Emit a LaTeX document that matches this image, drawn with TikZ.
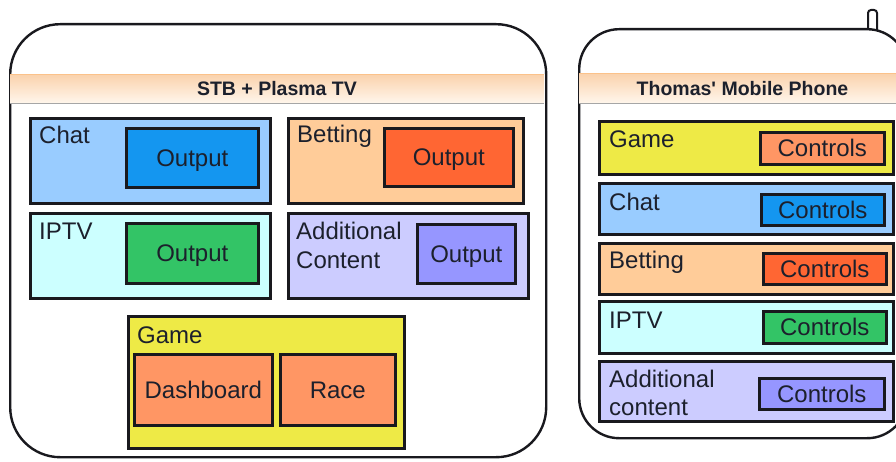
\documentclass[tikz,border=0pt]{standalone}
\usepackage{fontspec}
\setmainfont{Liberation Sans}
\newfontfamily\headfont{Liberation Sans}
\definecolor{txt}{RGB}{28,32,44}
\definecolor{cchat}{RGB}{153,204,255}
\definecolor{cchatout}{RGB}{20,150,240}
\definecolor{cbet}{RGB}{255,204,153}
\definecolor{cbetout}{RGB}{255,102,51}
\definecolor{ciptv}{RGB}{204,255,255}
\definecolor{ciptvout}{RGB}{51,196,102}
\definecolor{cadd}{RGB}{204,204,255}
\definecolor{caddout}{RGB}{150,150,255}
\definecolor{cgame}{RGB}{238,234,70}
\definecolor{cgameout}{RGB}{255,150,100}
\definecolor{bandtop}{RGB}{250,210,172}
\definecolor{bandbot}{RGB}{255,246,236}
\definecolor{edge}{RGB}{25,25,30}
\newcommand{\rbox}[7]{%
  \pgfmathsetmacro\bw{#4-#2}\pgfmathsetmacro\bh{#5-#3}%
  \node[#6, minimum width=\bw pt, minimum height=\bh pt, anchor=north west, inner sep=0pt] (#1) at (#2,#3) {#7};%
}
\begin{document}
\begin{tikzpicture}[x=1pt,y=-1pt,
  box/.style={draw=edge, line width=2.6pt},
  device/.style={draw=edge, line width=2.4pt, fill=white},
  band/.style={top color=bandtop, bottom color=bandbot, draw=none},
  lbl/.style={text=txt, font=\fontsize{24}{28}\selectfont, inner sep=0pt, anchor=base west},
  inner/.style={box, text=txt, font=\fontsize{24}{28}\selectfont, text height=17.2pt, text depth=0pt},
  head/.style={text=txt, font=\headfont\bfseries\fontsize{19.5}{22}\selectfont, inner sep=0pt}]
\useasboundingbox (0,0) rectangle (896,462);
\clip (0,0) rectangle (896,462);
\fill[white] (0,0) rectangle (896,462);
% ---------- STB + Plasma TV ----------
\rbox{stb}{9}{23}{545}{456}{device, rounded corners=50pt}{}
\rbox{stbband}{10.2}{74}{543.8}{103}{band}{}
\draw[bandtop!80!orange, line width=0.6pt] (stbband.north west) -- (stbband.north east);
\draw[gray!70, line width=0.6pt] (stbband.south west) -- (stbband.south east);
\node[head] (stbhead) at (277,89) {STB + Plasma TV};
\rbox{chat}{29}{117}{269}{202}{box, fill=cchat}{}
\rbox{chatout}{125}{127}{257}{186}{inner, fill=cchatout}{Output}
\node[lbl] (chatl) at (39,144) {Chat};
\rbox{bet}{287}{117}{522}{202}{box, fill=cbet}{}
\rbox{betout}{383}{127}{512}{185}{inner, fill=cbetout}{Output}
\node[lbl] (betl) at (297,143) {Betting};
\rbox{iptv}{29}{212}{269}{297}{box, fill=ciptv}{}
\rbox{iptvout}{125}{222}{257}{282}{inner, fill=ciptvout}{Output}
\node[lbl] (iptvl) at (39,240) {IPTV};
\rbox{add}{287}{212}{527}{297}{box, fill=cadd}{}
\rbox{addout}{416}{223}{514}{282}{inner, fill=caddout}{Output}
\node[lbl] (addl) at (296,240) {Additional};
\node[lbl] (addl2) at (296,268) {Content};
\rbox{game}{127}{315}{403}{447}{box, fill=cgame}{}
\node[lbl] (gamel) at (137,343) {Game};
\rbox{dash}{133}{353}{271}{424}{inner, fill=cgameout}{Dashboard}
\rbox{race}{279}{353}{394}{424}{inner, fill=cgameout}{Race}
% ---------- Thomas' Mobile Phone ----------
\rbox{ant}{867}{9}{876}{32}{device, line width=2pt, rounded corners=3pt}{}
\rbox{phone}{578}{28}{906}{437}{device, rounded corners=40pt}{}
\rbox{phband}{579.2}{73}{904.8}{103}{band}{}
\draw[bandtop!80!orange, line width=0.6pt] (phband.north west) -- (phband.north east);
\draw[gray!70, line width=0.6pt] (phband.south west) -- (phband.south east);
\node[head] (phhead) at (742.5,89) {Thomas' Mobile Phone};
\rbox{pgame}{598}{120}{892}{173}{box, fill=cgame}{}
\rbox{pgamec}{759}{131}{883}{163}{inner, fill=cgameout}{Controls}
\node[lbl] (pgamel) at (609,148) {Game};
\rbox{pchat}{598}{182}{892}{233}{box, fill=cchat}{}
\rbox{pchatc}{760}{193}{883}{224}{inner, fill=cchatout}{Controls}
\node[lbl] (pchatl) at (609,211) {Chat};
\rbox{pbet}{598}{242}{892}{293}{box, fill=cbet}{}
\rbox{pbetc}{762}{252}{885}{283}{inner, fill=cbetout}{Controls}
\node[lbl] (pbetl) at (609,269) {Betting};
\rbox{piptv}{598}{300}{892}{352}{box, fill=ciptv}{}
\rbox{piptvc}{762}{310}{885}{342}{inner, fill=ciptvout}{Controls}
\node[lbl] (piptvl) at (609,328) {IPTV};
\rbox{padd}{598}{360}{892}{420}{box, fill=cadd}{}
\rbox{paddc}{758}{377}{883}{408}{inner, fill=caddout}{Controls}
\node[lbl] (paddl) at (609,387) {Additional};
\node[lbl] (paddl2) at (609,415) {content};
\end{tikzpicture}
\end{document}
